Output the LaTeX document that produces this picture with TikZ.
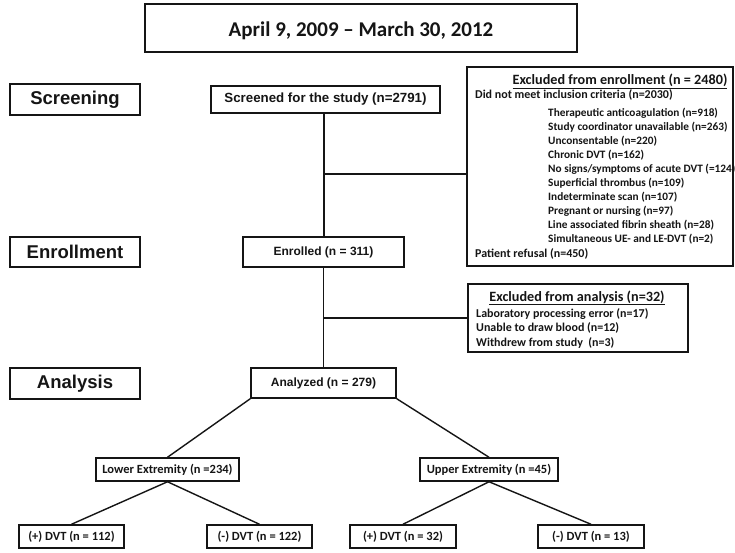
\documentclass[tikz,border=0pt]{standalone}
\usepackage{fontspec}
\setmainfont{Carlito}
\newfontfamily\arialf{Liberation Sans}
\definecolor{ink}{HTML}{151515}
\tikzset{
  box/.style={draw=ink, line width=1.5pt, inner sep=0pt, text=ink, font=\bfseries\fontsize{12}{14}\selectfont},
  stagebox/.style={box, minimum width=130pt, font=\arialf\bfseries\fontsize{18.5}{20}\selectfont},
  abox/.style={box, font=\arialf\bfseries\fontsize{12}{14}\selectfont},
  leaf/.style={box, minimum height=23pt, font=\bfseries\fontsize{12.5}{14}\selectfont},
  conn/.style={draw=ink, line width=1.4pt},
  txt/.style={inner sep=0pt, text=ink, font=\bfseries\fontsize{12}{14}\selectfont},
  subtxt/.style={txt, font=\bfseries\fontsize{11.3}{14}\selectfont},
  headtxt/.style={txt, anchor=base, font=\bfseries\fontsize{14.2}{16}\selectfont},
}
\begin{document}
\begin{tikzpicture}[x=1pt,y=-1pt]
\useasboundingbox[fill=white] (0,0) rectangle (735,552);

% top date box
\node[box, minimum width=432pt, minimum height=48pt] (date) at (361,28) {};
\node[txt, anchor=base, font=\bfseries\fontsize{21}{24}\selectfont] (datetxt) at (361,36.5) {April 9, 2009 -- March 30, 2012};

% stage labels
\node[stagebox, minimum height=31pt] (scr) at (75,99.5) {Screening};
\node[stagebox, minimum height=30pt] (enr) at (75,252) {Enrollment};
\node[stagebox, minimum height=31pt] (ana) at (75,383.5) {Analysis};

% main flow boxes
\node[abox, minimum width=229pt, minimum height=27pt, font=\arialf\bfseries\fontsize{13.3}{14}\selectfont] (screened) at (325.5,99.5) {Screened for the study (n=2791)};
\node[abox, minimum width=161pt, minimum height=30pt] (enrolled) at (323.5,252) {Enrolled (n = 311)};
\node[abox, minimum width=145pt, minimum height=30pt] (analyzed) at (323.5,383) {Analyzed (n = 279)};

% exclusion boxes
\node[box, minimum width=266pt, minimum height=199pt] (excl1) at (600,166.5) {};
\node[box, minimum width=220pt, minimum height=68pt] (excl2) at (578,318) {};

\node[headtxt] (t1) at (620,84.5) {\underline{Excluded from enrollment (n = 2480)}};
\node[txt, anchor=base west] (l0) at (475,98.5) {Did not meet inclusion criteria (n=2030)};
\foreach \t [count=\i] in {Therapeutic anticoagulation (n=918),Study coordinator unavailable (n=263),Unconsentable (n=220),Chronic DVT (n=162),No signs/symptoms of acute DVT (=124),Superficial thrombus (n=109),Indeterminate scan (n=107),Pregnant or nursing (n=97),Line associated fibrin sheath (n=28),Simultaneous UE- and LE-DVT (n=2)}
  \node[subtxt, anchor=base west] (l\i) at (548,{116+14.1*(\i-1)}) {\t};
\node[txt, anchor=base west] (l11) at (475,257) {Patient refusal (n=450)};

\node[headtxt] (t2) at (577,301) {\underline{Excluded from analysis (n=32)}};
\node[txt, anchor=base west] (m1) at (476,317) {Laboratory processing error (n=17)};
\node[txt, anchor=base west] (m2) at (476,331) {Unable to draw blood (n=12)};
\node[txt, anchor=base west] (m3) at (476,346) {Withdrew from study\ \ (n=3)};

% subgroup boxes
\node[leaf, minimum width=143pt] (lower) at (167.5,469.5) {Lower Extremity (n =234)};
\node[leaf, minimum width=138pt] (upper) at (489,469.5) {Upper Extremity (n =45)};
\node[leaf, minimum width=105pt] (p112) at (71.5,536.5) {(+) DVT (n = 112)};
\node[leaf, minimum width=105pt] (m122) at (259.5,536.5) {(-) DVT (n = 122)};
\node[leaf, minimum width=106pt] (p32) at (403,536.5) {(+) DVT (n = 32)};
\node[leaf, minimum width=106pt] (m13) at (591,536.5) {(-) DVT (n = 13)};

% connectors
\coordinate (b1) at (324,174);
\coordinate (b2) at (323.5,318);
\draw[conn] (screened.south -| b1) -- (b1 |- enrolled.north);
\draw[conn] (b1) -- (b1 -| excl1.west);
\draw[conn] (enrolled.south) -- (analyzed.north);
\draw[conn] (b2) -- (b2 -| excl2.west);
\draw[conn] (analyzed.south west) -- (lower.north);
\draw[conn] (analyzed.south east) -- (upper.north);
\draw[conn] (lower.south) -- (p112.north);
\draw[conn] (lower.south) -- (m122.north);
\draw[conn] (upper.south) -- (p32.north);
\draw[conn] (upper.south) -- (m13.north);
\end{tikzpicture}
\end{document}
